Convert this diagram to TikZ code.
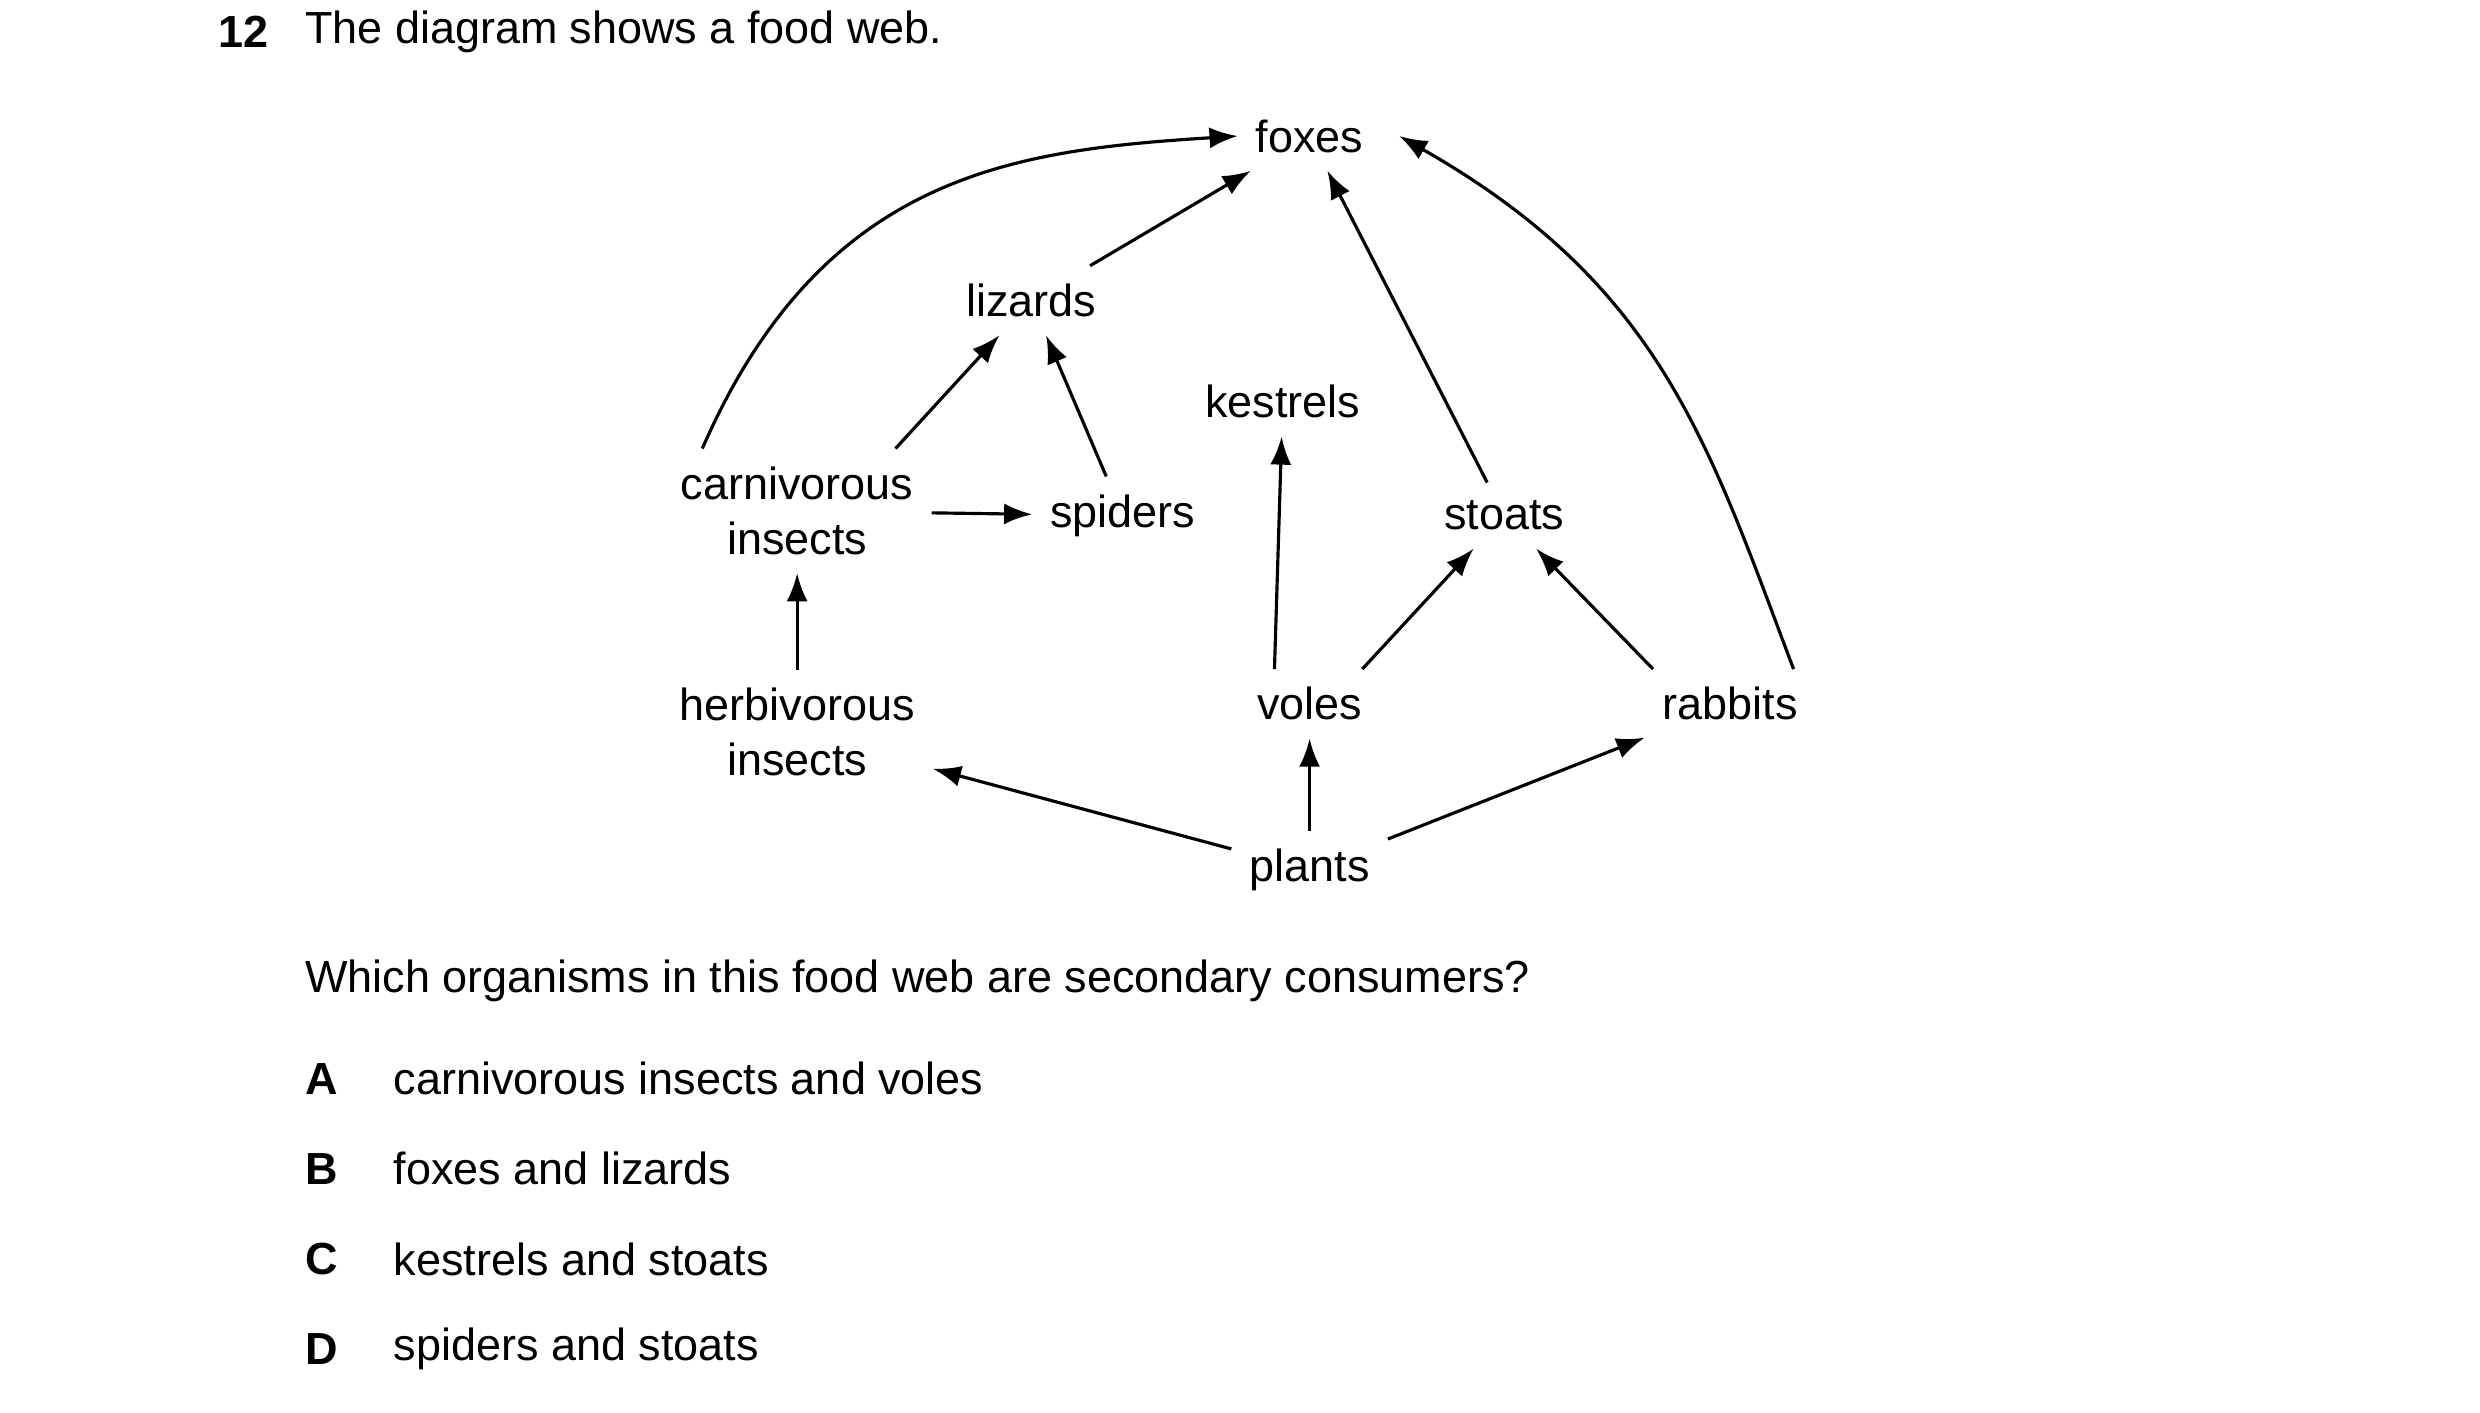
\documentclass[tikz,border=0pt]{standalone}
\usepackage{fontspec}
\setmainfont{Liberation Sans}
\usetikzlibrary{arrows.meta}
\begin{document}
\fontsize{12.8}{15.7}\selectfont
\begin{tikzpicture}[x=0.015816cm,y=-0.015816cm,
  org/.style={inner sep=5pt,align=center},
  eat/.style={line width=0.9pt,-{Latex[length=8pt,width=6pt]}}]
\useasboundingbox (0,0) rectangle (1568,893);
\node[anchor=west] at (128,20) {\textbf{12}};
\node[anchor=west] at (183,20) {The diagram shows a food web.};
% organisms
\node[org] (foxes) at (828,86) {foxes};
\node[org] (lizards) at (652,190) {lizards};
\node[org] (kestrels) at (811,254) {kestrels};
\node[org] (carn) at (504,323) {carnivorous\\insects};
\node[org] (spiders) at (710,326) {spiders};
\node[org] (stoats) at (951,326) {stoats};
\node[org] (herb) at (504,463) {herbivorous\\insects};
\node[org] (voles) at (828,445) {voles};
\node[org] (rabbits) at (1094,445) {rabbits};
\node[org] (plants) at (828,550) {plants};
% feeding links
\draw[eat] (plants) -- (herb);
\draw[eat] (plants) -- (voles);
\draw[eat] (plants) -- (rabbits);
\draw[eat] (herb) -- (carn);
\draw[eat] (carn) -- (spiders);
\draw[eat] ([xshift=28]carn.north) -- (lizards);
\draw[eat] (spiders) -- (lizards);
\draw[eat] (lizards) -- (foxes);
\draw[eat] ([xshift=-10]voles.north) -- (kestrels);
\draw[eat] ([xshift=15]voles.north) -- (stoats);
\draw[eat] ([xshift=-22]rabbits.north) -- (stoats);
\draw[eat] (stoats) -- (foxes);
\draw[eat] ([xshift=-27]carn.north) .. controls (520,110) and (640,95) .. (foxes.west);
\draw[eat] ([xshift=18]rabbits.north) .. controls (1080,280) and (1050,180) .. ([xshift=5]foxes.east);
% question
\node[anchor=west] at (183,620) {Which organisms in this food web are secondary consumers?};
\foreach \l/\t/\y in {A/carnivorous insects and voles/682,B/foxes and lizards/739,C/kestrels and stoats/796,D/spiders and stoats/853}{
  \node[anchor=west] at (183,\y) {\textbf{\l}};
  \node[anchor=west] at (239,\y) {\t};
}
\end{tikzpicture}
\end{document}
